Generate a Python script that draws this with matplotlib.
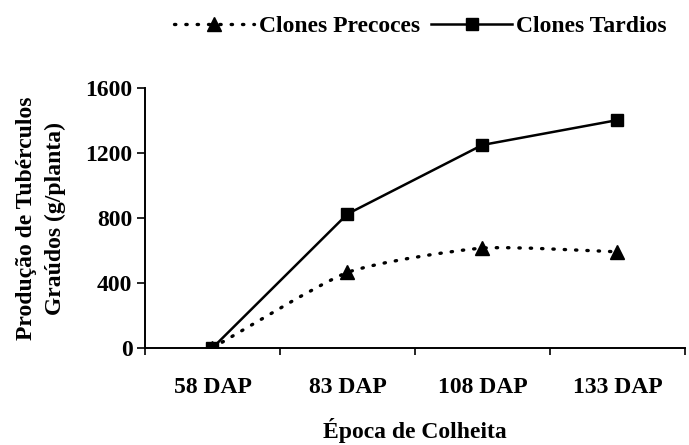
import numpy as np
import matplotlib
matplotlib.use('Agg')
import matplotlib.pyplot as plt
from matplotlib.path import Path
from matplotlib.patches import PathPatch
from matplotlib.lines import Line2D

epocas = ['58 DAP', '83 DAP', '108 DAP', '133 DAP']
precoces = [0, 465, 615, 592]
tardios = [0, 825, 1250, 1403]
yticks = [0, 400, 800, 1200, 1600]

plt.rcParams['font.family'] = ['Liberation Serif', 'DejaVu Serif']
plt.rcParams['font.weight'] = 'bold'
plt.rcParams['axes.labelweight'] = 'bold'


def curva_suave(xs, ys, tensao=10):
    # segmentos bezier (estilo "linha suavizada" do Excel)
    pts = np.column_stack([xs, ys]).astype(float)
    verts = [pts[0]]
    codes = [Path.MOVETO]
    n = len(pts)
    for i in range(n - 1):
        p0 = pts[max(i - 1, 0)]
        p1, p2 = pts[i], pts[i + 1]
        p3 = pts[min(i + 2, n - 1)]
        c1 = p1 + (p2 - p0) / tensao
        c2 = p2 - (p3 - p1) / tensao
        verts += [c1, c2, p2]
        codes += [Path.CURVE4] * 3
    return Path(verts, codes)


fig = plt.figure(figsize=(6.89, 4.45), dpi=100)
ax = fig.add_axes([0.2104, 0.218, 0.7836, 0.584])

x = np.arange(len(epocas))
pontilhado = (0, (0.4, 3.0))

patch = PathPatch(curva_suave(x, precoces), facecolor='none', edgecolor='black',
                  lw=2.4, linestyle=pontilhado, capstyle='round')
ax.add_patch(patch)
ax.plot(x, precoces, ls='none', marker='^', ms=10, color='black')
ax.plot(x, tardios, '-', lw=1.8, marker='s', ms=9, color='black')

ax.set_xlim(-0.5, 3.5)
ax.set_ylim(0, 1600)
ax.set_yticks(yticks)
ax.set_xticks(x)
ax.set_xticklabels(epocas)
ax.set_xticks(np.arange(-0.5, 3.6, 1), minor=True)
ax.tick_params(axis='x', which='major', length=0, pad=21, labelsize=17)
ax.tick_params(axis='x', which='minor', length=5, width=1.2, direction='out')
ax.tick_params(axis='y', length=6, width=1.2, direction='out', pad=3, labelsize=17)

for s in ['top', 'right']:
    ax.spines[s].set_visible(False)
for s in ['left', 'bottom']:
    ax.spines[s].set_linewidth(1.4)

ax.set_xlabel('Época de Colheita', fontsize=17, labelpad=14)
ax.set_ylabel('Produção de Tubérculos\nGraúdos (g/planta)', fontsize=17, linespacing=1.45)
ax.yaxis.label.set_va('center')
ax.yaxis.set_label_coords(-0.193, 0.5)

handles = [
    Line2D([], [], color='black', lw=2.4, linestyle=pontilhado,
           dash_capstyle='round', marker='^', ms=10),
    Line2D([], [], color='black', lw=1.8, marker='s', ms=9),
]
fig.legend(handles, ['Clones Precoces', 'Clones Tardios'], loc='center',
           bbox_to_anchor=(0.61, 0.94), ncol=2, frameon=False, fontsize=17,
           handlelength=3.4, handletextpad=0.2, columnspacing=0.5)

plt.savefig('out.png', dpi=100)
